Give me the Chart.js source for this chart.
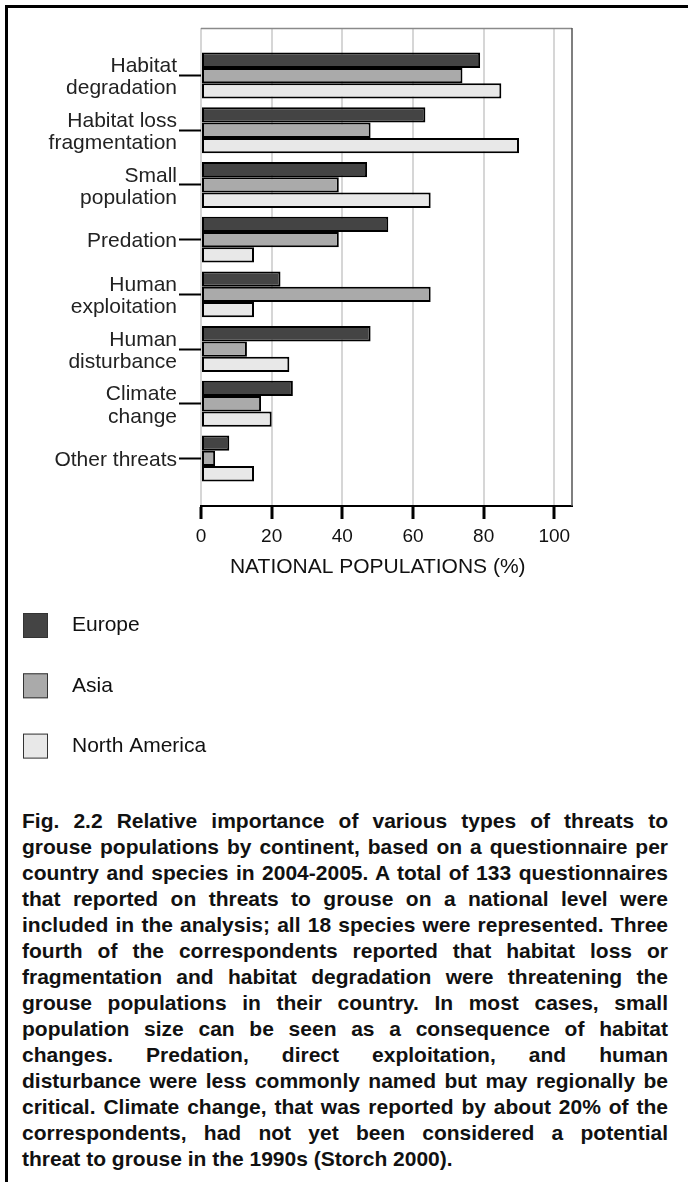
<!DOCTYPE html>
<html>
<head>
<meta charset="utf-8">
<script src="https://cdn.jsdelivr.net/npm/chart.js@4.4.1/dist/chart.umd.min.js"></script>
<style>
  body { margin: 0; background: #fff; }
  #page { position: relative; width: 688px; height: 1182px; overflow: hidden; font-family: 'Liberation Sans', Arial, sans-serif; }
  #frame { position: absolute; left: 5px; top: 5px; right: 0; bottom: 0; border-left: 3px solid #000; border-top: 3px solid #000; }
  #chart { position: absolute; left: 0; top: 0; }
  #caption { position: absolute; left: 22px; top: 808px; width: 646px; font-weight: bold; font-size: 21px; line-height: 26px; color: #111; }
  #caption div { text-align: justify; text-align-last: justify; }
  #caption div.last { text-align-last: left; }
</style>
</head>
<body>
<div id="page">
  <div id="frame"></div>
  <canvas id="chart" width="688" height="780"></canvas>
  <div id="caption">
    <div>Fig. 2.2 Relative importance of various types of threats to</div>
    <div>grouse populations by continent, based on a questionnaire per</div>
    <div>country and species in 2004-2005. A total of 133 questionnaires</div>
    <div>that reported on threats to grouse on a national level were</div>
    <div>included in the analysis; all 18 species were represented. Three</div>
    <div>fourth of the correspondents reported that habitat loss or</div>
    <div>fragmentation and habitat degradation were threatening the</div>
    <div>grouse populations in their country. In most cases, small</div>
    <div>population size can be seen as a consequence of habitat</div>
    <div>changes. Predation, direct exploitation, and human</div>
    <div>disturbance were less commonly named but may regionally be</div>
    <div>critical. Climate change, that was reported by about 20% of the</div>
    <div>correspondents, had not yet been considered a potential</div>
    <div class="last">threat to grouse in the 1990s (Storch 2000).</div>
  </div>
</div>
<script>
// threat categories, top to bottom
const categories = [
  ['Habitat', 'degradation'],
  ['Habitat loss', 'fragmentation'],
  ['Small', 'population'],
  'Predation',
  ['Human', 'exploitation'],
  ['Human', 'disturbance'],
  ['Climate', 'change'],
  'Other threats'
];

// % of national populations reporting each threat
const europe = [79, 63.5, 47, 53, 22.5, 48, 26, 8];
const asia = [74, 48, 39, 39, 65, 13, 17, 4];
const northAmerica = [85, 90, 65, 15, 15, 25, 20, 15];

const xTicks = [0, 20, 40, 60, 80, 100];

const FONT = "'Liberation Sans', Arial, sans-serif";
Chart.defaults.font.family = FONT;

function toPoints(values) {
  return values.map((v, i) => ({ x: v, y: i }));
}

// top and right edges of the plot box
const framePlugin = {
  id: 'frame',
  afterDatasetsDraw(chart) {
    const { ctx, chartArea: a } = chart;
    ctx.save();
    ctx.lineWidth = 1.5;
    ctx.strokeStyle = '#8a8a8a';
    ctx.beginPath();
    ctx.moveTo(a.left, a.top + 0.5);
    ctx.lineTo(a.right, a.top + 0.5);
    ctx.stroke();
    ctx.strokeStyle = '#555';
    ctx.beginPath();
    ctx.moveTo(a.right, a.top);
    ctx.lineTo(a.right, a.bottom);
    ctx.stroke();
    ctx.restore();
  }
};

// legend stacked under the axis title
const stackedLegend = {
  id: 'stackedLegend',
  afterDraw(chart) {
    const ctx = chart.ctx;
    ctx.save();
    chart.data.datasets.forEach((ds, i) => {
      const cy = 625.5 + i * 60.3;
      ctx.fillStyle = ds.backgroundColor;
      ctx.fillRect(23, cy - 12.5, 25, 25);
      ctx.strokeStyle = '#333';
      ctx.lineWidth = 1;
      ctx.strokeRect(23.5, cy - 12, 24, 24);
      ctx.fillStyle = '#111';
      ctx.font = '21px ' + FONT;
      ctx.textBaseline = 'middle';
      ctx.textAlign = 'left';
      ctx.fillText(ds.label, 72, cy);
    });
    ctx.restore();
  }
};

const barStyle = { borderColor: '#000', borderWidth: 2, borderSkipped: false };

new Chart(document.getElementById('chart'), {
  type: 'bar',
  data: {
    datasets: [
      { label: 'Europe', data: toPoints(europe), backgroundColor: '#444444', ...barStyle },
      { label: 'Asia', data: toPoints(asia), backgroundColor: '#aaaaaa', ...barStyle },
      { label: 'North America', data: toPoints(northAmerica), backgroundColor: '#e8e8e8', ...barStyle }
    ]
  },
  options: {
    responsive: false,
    animation: false,
    indexAxis: 'y',
    categoryPercentage: 0.84,
    barPercentage: 1,
    layout: { padding: { left: 0, right: 116, top: 28, bottom: 194 } },
    plugins: { legend: { display: false }, tooltip: { enabled: false } },
    scales: {
      x: {
        type: 'linear',
        min: 0,
        max: 105,
        afterBuildTicks: s => { s.ticks = xTicks.map(v => ({ value: v })); },
        afterFit: s => { s.height = 80; },
        ticks: { font: { size: 19 }, color: '#111', padding: 6 },
        grid: { color: '#d6d6d6', lineWidth: 2, tickColor: '#000', tickWidth: 3, tickLength: 13 },
        border: { color: '#000', width: 2 },
        title: {
          display: true,
          text: 'NATIONAL POPULATIONS (%)   ',
          font: { size: 21 },
          color: '#111',
          padding: { top: 0, bottom: 6 }
        }
      },
      y: {
        type: 'linear',
        reverse: true,
        offset: false,
        min: -0.87,
        max: 7.87,
        afterBuildTicks: s => { s.ticks = categories.map((c, i) => ({ value: i })); },
        afterFit: s => { s.width = 201; },
        ticks: {
          autoSkip: false,
          callback: v => categories[v],
          font: { size: 21, lineHeight: 1.05 },
          color: '#222',
          padding: 2,
          labelOffset: 2
        },
        grid: { offset: false, drawOnChartArea: false, tickLength: 22, tickColor: '#000', tickWidth: 2 },
        border: { display: false }
      }
    }
  },
  plugins: [framePlugin, stackedLegend]
});
</script>
</body>
</html>
